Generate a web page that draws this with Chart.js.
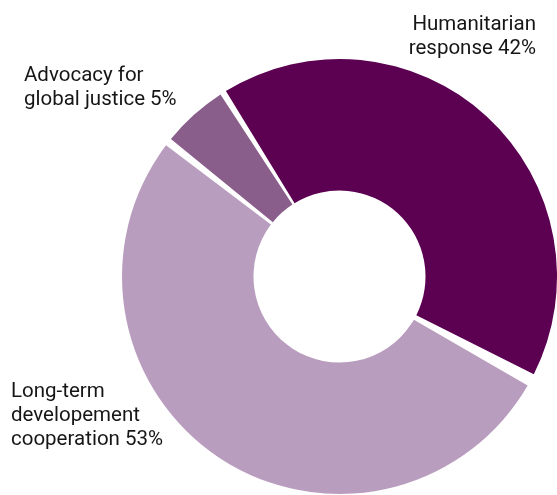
<!DOCTYPE html>
<html>
<head>
<meta charset="utf-8">
<script src="https://cdn.jsdelivr.net/npm/chart.js@4"></script>
<style>
  html, body { margin: 0; padding: 0; background: #fff; overflow: hidden; }
  #wrap { width: 557px; height: 495px; position: relative; }
</style>
</head>
<body>
<div id="wrap"><canvas id="canvas"></canvas></div>
<script>
// Datos
const categorias = ["Humanitarian response", "Long-term developement cooperation", "Advocacy for global justice"];
const valores = [42, 53, 5];
const etiquetas = [
  ["Humanitarian", "response 42%"],
  ["Long-term", "developement", "cooperation 53%"],
  ["Advocacy for", "global justice 5%"]
];
const colores = ["#5c0052", "#b99dbe", "#8a5e8a"];

// Posición de cada etiqueta (x, y de la primera línea, alineación)
const posEtiquetas = [
  { x: 536, y: 30, align: "right" },
  { x: 11, y: 397, align: "left" },
  { x: 24, y: 81, align: "left" }
];

// Plugin para escribir las etiquetas
const pluginEtiquetas = {
  id: "etiquetas",
  afterDraw(chart) {
    const ctx = chart.ctx;
    ctx.save();
    ctx.font = "20.5px Roboto";
    ctx.fillStyle = "#161616";
    ctx.textBaseline = "alphabetic";
    etiquetas.forEach((lineas, i) => {
      const p = posEtiquetas[i];
      ctx.textAlign = p.align;
      lineas.forEach((l, j) => ctx.fillText(l, p.x, p.y + j * 24));
    });
    ctx.restore();
  }
};

new Chart(document.getElementById("canvas"), {
  type: "doughnut",
  data: {
    labels: categorias,
    datasets: [{
      data: valores,
      backgroundColor: colores,
      borderWidth: 0,
      spacing: 6
    }]
  },
  options: {
    responsive: true,
    maintainAspectRatio: false,
    animation: false,
    rotation: -33,
    cutout: "38.7%",
    layout: { padding: { left: 122, right: 0, top: 59, bottom: 1 } },
    plugins: { legend: { display: false }, tooltip: { enabled: false } }
  },
  plugins: [pluginEtiquetas]
});
</script>
</body>
</html>
